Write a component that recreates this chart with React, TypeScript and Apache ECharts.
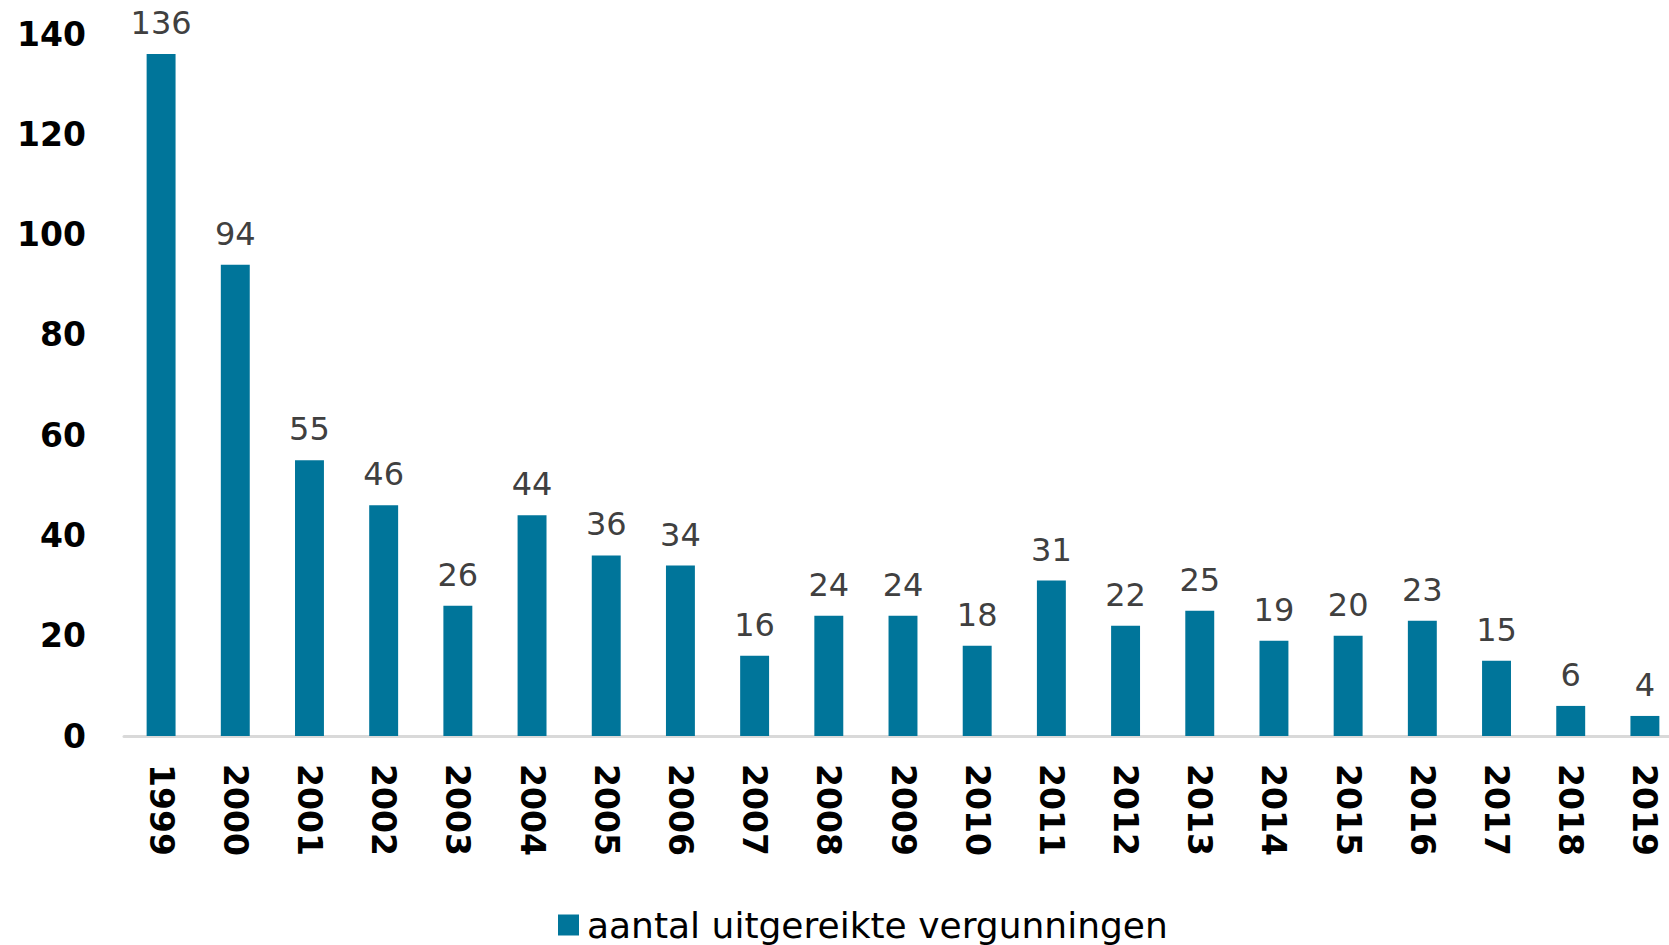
import React, { useEffect, useRef } from "react";
import * as echarts from "echarts";

const years = ["1999","2000","2001","2002","2003","2004","2005","2006","2007","2008","2009","2010","2011","2012","2013","2014","2015","2016","2017","2018","2019"];
const permits = [136, 94, 55, 46, 26, 44, 36, 34, 16, 24, 24, 18, 31, 22, 25, 19, 20, 23, 15, 6, 4];
const seriesName = "aantal uitgereikte vergunningen";
const yMin = 0;
const yMax = 140;
const yStep = 20;

const FONT = "'DejaVu Sans', 'Open Sans', sans-serif";

export default function App() {
  const ref = useRef<HTMLDivElement>(null);
  useEffect(() => {
    if (!ref.current) return;
    const chart = echarts.init(ref.current, null, { renderer: "svg" });
    chart.setOption({
      animation: false,
      backgroundColor: "#ffffff",
      textStyle: { fontFamily: FONT },
      grid: { left: 124, top: 34, width: 1558, height: 702, containLabel: false },
      legend: {
        show: true,
        left: 553,
        top: 902,
        icon: "rect",
        itemWidth: 21,
        itemHeight: 21,
        textStyle: { fontFamily: FONT, fontSize: 36, color: "#000000", padding: [0, 0, 0, 3] },
        data: [seriesName],
      },
      xAxis: {
        type: "category",
        data: years,
        axisLine: { show: true, lineStyle: { color: "#d9d9d9", width: 3 } },
        axisTick: { show: false },
        axisLabel: {
          rotate: -90,
          margin: 28,
          fontFamily: FONT,
          fontSize: 33,
          fontWeight: "bold",
          color: "#000000",
          interval: 0,
        },
      },
      yAxis: {
        type: "value",
        min: yMin,
        max: yMax,
        interval: yStep,
        splitLine: { show: false },
        axisLine: { show: false },
        axisTick: { show: false },
        axisLabel: {
          margin: 38,
          fontFamily: FONT,
          fontSize: 33,
          fontWeight: "bold",
          color: "#000000",
        },
      },
      series: [
        {
          name: seriesName,
          type: "bar",
          data: permits,
          barWidth: "39%",
          itemStyle: { color: "#00759a" },
          label: {
            show: true,
            position: "top",
            distance: 15,
            fontFamily: FONT,
            fontSize: 32,
            color: "#404040",
          },
        },
      ],
    });
    return () => chart.dispose();
  }, []);
  return (
    <div
      ref={ref}
      style={{ position: "fixed", left: 0, top: 0, width: 1720, height: 945 }}
    />
  );
}
